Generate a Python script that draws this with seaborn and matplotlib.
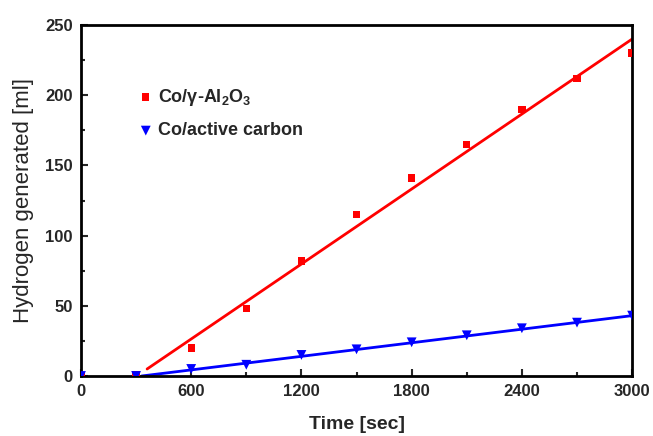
import matplotlib
matplotlib.use("Agg")
import matplotlib.pyplot as plt
from matplotlib.ticker import MultipleLocator
import seaborn as sns
import pandas as pd

time_s = [0, 300, 600, 900, 1200, 1500, 1800, 2100, 2400, 2700, 3000]
h2_alumina = [0, 1, 20, 48, 82, 115, 141, 165, 190, 212, 230]
h2_carbon = [0, 0, 5, 8, 15, 19, 24, 29, 34, 38, 43]

fit_alumina_t = [360, 3000]
fit_alumina_v = [5, 240]
fit_carbon_t = [330, 3000]
fit_carbon_v = [0, 43]

label_alumina = r"Co/$\mathbf{\gamma}$-Al$_\mathbf{2}$O$_\mathbf{3}$"
label_carbon = "Co/active carbon"

sns.set_theme(style="ticks")
plt.rcParams['font.family'] = ['Liberation Sans', 'DejaVu Sans']
plt.rcParams['mathtext.fontset'] = 'custom'
plt.rcParams['mathtext.rm'] = 'Liberation Sans:bold'
plt.rcParams['mathtext.bf'] = 'Liberation Sans:bold'
plt.rcParams['mathtext.it'] = 'Liberation Sans:bold'

fig = plt.figure(figsize=(6.53, 4.36), dpi=100)
ax = fig.add_axes([0.124, 0.1376, 0.844, 0.805])

df_a = pd.DataFrame({"t": time_s, "v": h2_alumina})
df_c = pd.DataFrame({"t": time_s, "v": h2_carbon})

sns.lineplot(x=fit_alumina_t, y=fit_alumina_v, ax=ax, color="#ff0000", linewidth=2)
sns.lineplot(x=fit_carbon_t, y=fit_carbon_v, ax=ax, color="#0000ff", linewidth=2)
sns.scatterplot(data=df_a, x="t", y="v", ax=ax, marker="s", color="#ff0000",
                s=28, edgecolor="none", label=label_alumina, zorder=3)
sns.scatterplot(data=df_c, x="t", y="v", ax=ax, marker="v", color="#0000ff",
                s=50, edgecolor="none", label=label_carbon, zorder=3)

ax.set_xlim(0, 3000)
ax.set_ylim(0, 250)
ax.xaxis.set_major_locator(MultipleLocator(600))
ax.xaxis.set_minor_locator(MultipleLocator(300))
ax.yaxis.set_major_locator(MultipleLocator(50))
ax.yaxis.set_minor_locator(MultipleLocator(25))
ax.tick_params(which="both", direction="in", width=1.5, top=False, right=False)
ax.tick_params(which="major", length=5, labelsize=12, pad=6)
ax.tick_params(which="minor", length=3)
for lab in ax.get_xticklabels() + ax.get_yticklabels():
    lab.set_fontweight("bold")
for sp in ax.spines.values():
    sp.set_linewidth(2)
    sp.set_color("black")

ax.set_xlabel("Time [sec]", fontsize=14, fontweight="bold", labelpad=12)
ax.set_ylabel("Hydrogen generated [ml]", fontsize=16, labelpad=8)

leg = ax.legend(loc="upper left", bbox_to_anchor=(0.075, 0.87), frameon=False,
                handletextpad=0.3, labelspacing=0.8,
                handlelength=0.8, prop={"weight": "bold", "size": 13})

fig.savefig("out.png", dpi=100)
